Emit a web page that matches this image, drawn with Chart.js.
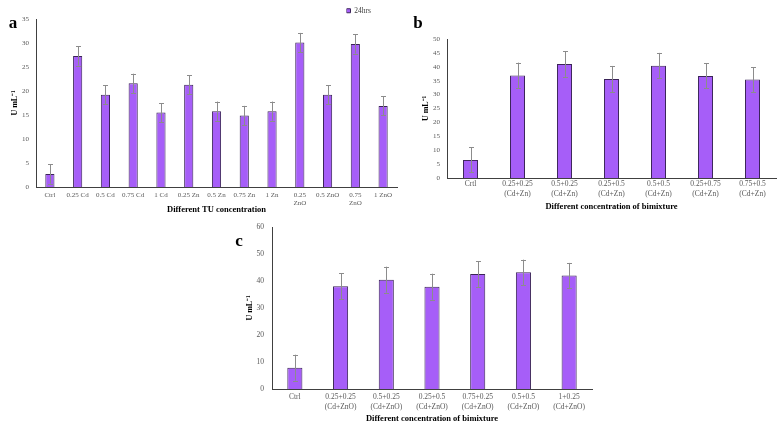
<!DOCTYPE html>
<html>
<head>
<meta charset="utf-8">
<script src="https://cdn.jsdelivr.net/npm/chart.js@4/dist/chart.umd.min.js"></script>
<style>
html,body{margin:0;padding:0;background:#fff;width:783px;height:429px;overflow:hidden;}
canvas{position:absolute;}
</style>
</head>
<body>
<canvas id="ca" width="400" height="218" style="left:0;top:0;width:400px;height:218px"></canvas>
<canvas id="cb" width="393" height="215" style="left:390px;top:0;width:393px;height:215px"></canvas>
<canvas id="cc" width="500" height="219" style="left:150px;top:210px;width:500px;height:219px"></canvas>
<script>
// ---- data ----
const catsA = ['Ctrl','0.25 Cd','0.5 Cd','0.75 Cd','1 Cd','0.25 Zn','0.5 Zn','0.75 Zn','1 Zn',['0.25','ZnO'],'0.5 ZnO',['0.75','ZnO'],'1 ZnO'];
const valsA = [2.7,27.3,19.2,21.6,15.5,21.3,15.8,14.9,15.8,30.1,19.2,29.8,16.9];
const errA  = [2.0,2.0,2.0,2.0,2.0,2.0,2.0,2.0,2.0,2.0,2.0,2.0,2.0];

const catsB = ['Crtl',['0.25+0.25','(Cd+Zn)'],['0.5+0.25','(Cd+Zn)'],['0.25+0.5','(Cd+Zn)'],['0.5+0.5','(Cd+Zn)'],['0.25+0.75','(Cd+Zn)'],['0.75+0.5','(Cd+Zn)']];
const valsB = [6.5,36.9,41.0,35.6,40.4,36.7,35.4];
const errB  = [4.5,4.6,4.6,4.7,4.6,4.5,4.5];

const catsC = ['Ctrl',['0.25+0.25','(Cd+ZnO)'],['0.5+0.25','(Cd+ZnO)'],['0.25+0.5','(Cd+ZnO)'],['0.75+0.25','(Cd+ZnO)'],['0.5+0.5','(Cd+ZnO)'],['1+0.25','(Cd+ZnO)']];
const valsC = [7.9,38.1,40.5,37.9,42.6,43.2,42.0];
const errC  = [4.8,4.8,4.8,4.8,4.8,4.7,4.7];

const seriesLabel = '24hrs';
const yTitle = 'U mL\u207B\u00B9';
const xTitleA = 'Different TU concentration';
const xTitleBC = 'Different concentration of bimixture';

// ---- styles ----
const SERIF = "'Liberation Serif','Times New Roman',serif";
const BAR = 'rgb(166,94,248)';
const BAR_EDGE = '#3b2458';
const AXIS = '#404040';
const TICK = '#595959';

const errorBars = {
  id: 'errorBars',
  afterDatasetsDraw(chart, args, opts) {
    const errs = opts.errors; if (!errs) return;
    const meta = chart.getDatasetMeta(0);
    const ys = chart.scales.y;
    const vals = chart.data.datasets[0].data;
    const ctx = chart.ctx;
    ctx.save();
    ctx.strokeStyle = '#8c8c8c';
    ctx.lineWidth = 1;
    meta.data.forEach((bar, i) => {
      const x = Math.round(bar.x) + 0.5;
      const y1 = ys.getPixelForValue(vals[i] + errs[i]);
      const y2 = ys.getPixelForValue(vals[i] - errs[i]);
      ctx.beginPath();
      ctx.moveTo(x, y1); ctx.lineTo(x, y2);
      ctx.moveTo(x - 2.5, Math.round(y1) + 0.5); ctx.lineTo(x + 2.5, Math.round(y1) + 0.5);
      ctx.moveTo(x - 2.5, Math.round(y2) + 0.5); ctx.lineTo(x + 2.5, Math.round(y2) + 0.5);
      ctx.stroke();
    });
    ctx.restore();
  }
};

const panelLetter = {
  id: 'panelLetter',
  afterDraw(chart, args, opts) {
    if (!opts.text) return;
    const ctx = chart.ctx;
    ctx.save();
    ctx.font = 'bold 17px ' + SERIF;
    ctx.fillStyle = '#000';
    ctx.textAlign = 'center';
    ctx.textBaseline = 'middle';
    ctx.fillText(opts.text, opts.x, opts.y);
    ctx.restore();
  }
};

const legendMove = {
  id: 'legendMove',
  afterLayout(chart, args, opts) {
    if (!opts.enabled || !chart.legend) return;
    const lg = chart.legend;
    const h = lg.height, w = lg.width;
    lg.left = opts.x; lg.right = opts.x + w;
    lg.top = opts.y; lg.bottom = opts.y + h;
  }
};

function makeChart(id, cfg) {
  const W = cfg.W, H = cfg.H, A = cfg.area;
  return new Chart(document.getElementById(id), {
    type: 'bar',
    data: {
      labels: cfg.cats,
      datasets: [{
        label: seriesLabel,
        data: cfg.vals,
        backgroundColor: BAR,
        borderColor: BAR_EDGE,
        borderWidth: 1,
        categoryPercentage: 1,
        barPercentage: cfg.barPct
      }]
    },
    options: {
      responsive: false,
      animation: false,
      events: [],
      layout: { padding: { left: cfg.padL, top: A.top, right: W - A.right, bottom: 0 } },
      plugins: {
        legend: cfg.legend ? {
          display: true, position: 'chartArea', align: 'start',
          labels: { boxWidth: 4, boxHeight: 4, padding: 0, color: '#404040', font: { family: SERIF, size: 7.5 } }
        } : { display: false },
        tooltip: { enabled: false },
        errorBars: { errors: cfg.errs },
        panelLetter: cfg.letter,
        legendMove: { enabled: !!cfg.legend, x: cfg.legend ? cfg.legend.x : 0, y: cfg.legend ? cfg.legend.y : 0 }
      },
      scales: {
        x: {
          grid: { display: false, drawTicks: false },
          border: { display: true, color: AXIS, width: 1 },
          ticks: { color: TICK, font: { family: SERIF, size: cfg.xFont, lineHeight: cfg.xLH }, padding: cfg.xPad, maxRotation: 0, autoSkip: false },
          title: { display: true, text: cfg.xTitle, color: '#000', font: { family: SERIF, size: 8.5, weight: 'bold' }, padding: { top: 0, bottom: cfg.xTitlePad } },
          afterFit(s) { s.height = H - A.bottom; }
        },
        y: {
          min: 0, max: cfg.yMax,
          grid: { display: false, drawTicks: false },
          border: { display: true, color: AXIS, width: 1 },
          ticks: { stepSize: cfg.yStep, color: TICK, font: { family: SERIF, size: cfg.yFont }, padding: cfg.yPad },
          title: { display: true, text: yTitle, color: '#000', font: { family: SERIF, size: 8, weight: 'bold' }, padding: { top: cfg.yTitlePad, bottom: 0 } },
          afterFit(s) { s.width = A.left - cfg.padL; }
        }
      }
    },
    plugins: [errorBars, panelLetter, legendMove]
  });
}

makeChart('ca', {
  W: 400, H: 218, area: { left: 36, top: 19, right: 397, bottom: 187 }, padL: 0,
  cats: catsA, vals: valsA, errs: errA, barPct: 0.33,
  yMax: 35, yStep: 5, yFont: 7, yPad: 7, yTitlePad: 10,
  xFont: 7, xLH: 1.2, xPad: 4, xTitle: xTitleA, xTitlePad: 3,
  letter: { text: 'a', x: 13, y: 24 },
  legend: { x: 346.5, y: 7 }
});

makeChart('cb', {
  W: 393, H: 215, area: { left: 57, top: 39, right: 386, bottom: 178 }, padL: 20,
  cats: catsB, vals: valsB, errs: errB, barPct: 0.32,
  yMax: 50, yStep: 5, yFont: 7, yPad: 7, yTitlePad: 11,
  xFont: 7.5, xLH: 1.33, xPad: 1, xTitle: xTitleBC, xTitlePad: 3,
  letter: { text: 'b', x: 28, y: 24 }
});

makeChart('cc', {
  W: 500, H: 219, area: { left: 122, top: 17, right: 442, bottom: 179 }, padL: 80,
  cats: catsC, vals: valsC, errs: errC, barPct: 0.33,
  yMax: 60, yStep: 10, yFont: 7.5, yPad: 8, yTitlePad: 15,
  xFont: 7.5, xLH: 1.33, xPad: 3, xTitle: xTitleBC, xTitlePad: 5,
  letter: { text: 'c', x: 89, y: 32 }
});
</script>
</body>
</html>
